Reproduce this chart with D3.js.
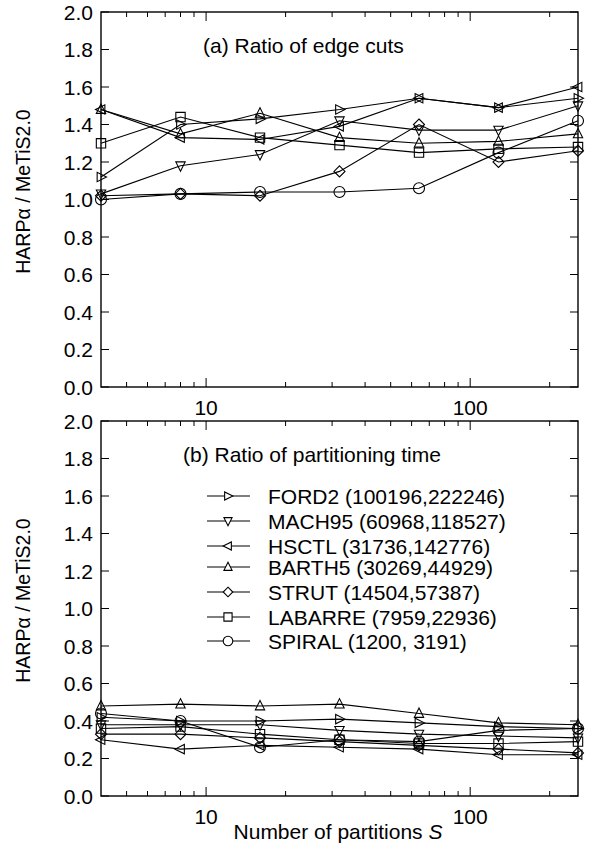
<!DOCTYPE html>
<html><head><meta charset="utf-8">
<script src="https://cdn.jsdelivr.net/npm/d3@7/dist/d3.min.js"></script>
<style>body{margin:0;background:#fff}svg{display:block}text{font-family:"Liberation Sans",Arial,sans-serif;fill:#000}</style>
</head><body><svg id="c" width="603" height="846"></svg>
<script>
const partitions = [4, 8, 16, 32, 64, 128, 256];
const seriesNames = ["FORD2 (100196,222246)", "MACH95 (60968,118527)", "HSCTL (31736,142776)", "BARTH5 (30269,44929)", "STRUT (14504,57387)", "LABARRE (7959,22936)", "SPIRAL (1200, 3191)"];
const seriesMarkers = ["right", "down", "left", "up", "diamond", "square", "circle"];
// (a) ratio of edge cuts
const cutsFORD2   = [1.12, 1.40, 1.43, 1.48, 1.54, 1.49, 1.54];
const cutsMACH95  = [1.03, 1.18, 1.24, 1.42, 1.37, 1.37, 1.50];
const cutsHSCTL   = [1.48, 1.33, 1.32, 1.39, 1.54, 1.49, 1.60];
const cutsBARTH5  = [1.48, 1.35, 1.46, 1.33, 1.30, 1.31, 1.35];
const cutsSTRUT   = [1.02, 1.03, 1.02, 1.15, 1.40, 1.20, 1.26];
const cutsLABARRE = [1.30, 1.44, 1.33, 1.29, 1.25, 1.27, 1.28];
const cutsSPIRAL  = [1.00, 1.03, 1.04, 1.04, 1.06, 1.25, 1.42];
// (b) ratio of partitioning time
const timeFORD2   = [0.42, 0.40, 0.40, 0.41, 0.39, 0.37, 0.36];
const timeMACH95  = [0.38, 0.38, 0.38, 0.35, 0.33, 0.32, 0.31];
const timeHSCTL   = [0.30, 0.25, 0.27, 0.26, 0.25, 0.22, 0.22];
const timeBARTH5  = [0.48, 0.49, 0.48, 0.49, 0.44, 0.39, 0.38];
const timeSTRUT   = [0.33, 0.33, 0.31, 0.29, 0.27, 0.25, 0.23];
const timeLABARRE = [0.36, 0.37, 0.33, 0.30, 0.28, 0.28, 0.29];
const timeSPIRAL  = [0.44, 0.40, 0.26, 0.30, 0.29, 0.35, 0.36];
const yTicks = [0, 0.2, 0.4, 0.6, 0.8, 1.0, 1.2, 1.4, 1.6, 1.8, 2.0];
const xTickLabels = [10, 100];

const cutsSeries = [cutsFORD2, cutsMACH95, cutsHSCTL, cutsBARTH5, cutsSTRUT, cutsLABARRE, cutsSPIRAL];
const timeSeries = [timeFORD2, timeMACH95, timeHSCTL, timeBARTH5, timeSTRUT, timeLABARRE, timeSPIRAL];

const svg = d3.select("#c");
const L = 101, R = 578;
const FS = 21;
const x = d3.scaleLog().domain([4, 256]).range([L, R]);
const minorX = [5,6,7,8,9,20,30,40,50,60,70,80,90,200];

function marker(type, r) {
  const p = d3.path();
  if (type === "circle") { p.arc(0, 0, r, 0, 2 * Math.PI); return p.toString(); }
  if (type === "square") { const s = r * 0.85; p.rect(-s, -s, 2 * s, 2 * s); return p.toString(); }
  if (type === "diamond") { p.moveTo(0, -r); p.lineTo(r, 0); p.lineTo(0, r); p.lineTo(-r, 0); p.closePath(); return p.toString(); }
  const a = r, b = r * 0.85;
  const pts = {
    up: [[0, -a], [b, a * 0.7], [-b, a * 0.7]],
    down: [[0, a], [b, -a * 0.7], [-b, -a * 0.7]],
    left: [[-a, 0], [a * 0.7, -b], [a * 0.7, b]],
    right: [[a, 0], [-a * 0.7, -b], [-a * 0.7, b]]
  }[type];
  p.moveTo(pts[0][0], pts[0][1]); p.lineTo(pts[1][0], pts[1][1]); p.lineTo(pts[2][0], pts[2][1]); p.closePath();
  return p.toString();
}

function panel(top, bottom, data, title, titleX) {
  const y = d3.scaleLinear().domain([0, 2]).range([bottom, top]);
  const g = svg.append("g");
  g.append("rect").attr("x", L).attr("y", top).attr("width", R - L).attr("height", bottom - top)
    .attr("fill", "none").attr("stroke", "#000").attr("stroke-width", 1.4);
  const xt = xTickLabels.map(v => ({v, len: 9})).concat(minorX.map(v => ({v, len: 5})));
  xt.forEach(t => {
    g.append("line").attr("x1", x(t.v)).attr("x2", x(t.v)).attr("y1", bottom).attr("y2", bottom - t.len).attr("stroke", "#000");
    g.append("line").attr("x1", x(t.v)).attr("x2", x(t.v)).attr("y1", top).attr("y2", top + t.len).attr("stroke", "#000");
  });
  xTickLabels.forEach(v => g.append("text").attr("x", x(v)).attr("y", bottom + 28).attr("text-anchor", "middle")
    .attr("font-size", FS).text(v));
  yTicks.forEach(v => {
    g.append("line").attr("x1", L).attr("x2", L + 8).attr("y1", y(v)).attr("y2", y(v)).attr("stroke", "#000");
    g.append("line").attr("x1", R).attr("x2", R - 8).attr("y1", y(v)).attr("y2", y(v)).attr("stroke", "#000");
    g.append("text").attr("x", 93).attr("y", y(v) + 7.5).attr("text-anchor", "end").attr("font-size", FS).text(v.toFixed(1));
  });
  const cy = (top + bottom) / 2 - 8;
  g.append("text").attr("transform", `translate(30,${cy}) rotate(-90)`).attr("text-anchor", "middle")
    .attr("font-size", 19.5).text("HARP\u03B1 / MeTiS2.0");
  g.append("text").attr("x", titleX).attr("y", top + 41).attr("font-size", FS).text(title);
  const line = d3.line().x((d, i) => x(partitions[i])).y(d => y(d));
  data.forEach(s => g.append("path").attr("d", line(s)).attr("fill", "none").attr("stroke", "#000").attr("stroke-width", 1.1));
  data.forEach((s, k) => s.forEach((v, i) => g.append("path").attr("d", marker(seriesMarkers[k], 5.5))
    .attr("transform", `translate(${x(partitions[i])},${y(v)})`).attr("fill", "none").attr("stroke", "#000").attr("stroke-width", 1.1)));
  return y;
}

panel(12, 387, cutsSeries, "(a) Ratio of edge cuts", 203);
panel(421, 796, timeSeries, "(b) Ratio of partitioning time", 183);

const legendY = [496, 521, 546, 567, 592, 617, 641];
seriesNames.forEach((n, k) => {
  const ly = legendY[k];
  svg.append("line").attr("x1", 207).attr("x2", 250).attr("y1", ly).attr("y2", ly).attr("stroke", "#000").attr("stroke-width", 1.1);
  svg.append("path").attr("d", marker(seriesMarkers[k], 4.8)).attr("transform", `translate(228,${ly})`)
    .attr("fill", "#fff").attr("stroke", "#000").attr("stroke-width", 1.1);
  svg.append("text").attr("x", 268).attr("y", ly + 7.5).attr("font-size", FS).text(n);
});

const xl = svg.append("text").attr("x", 338).attr("y", 839).attr("text-anchor", "middle").attr("font-size", FS);
xl.append("tspan").text("Number of partitions ");
xl.append("tspan").attr("font-style", "italic").text("S");
</script></body></html>
